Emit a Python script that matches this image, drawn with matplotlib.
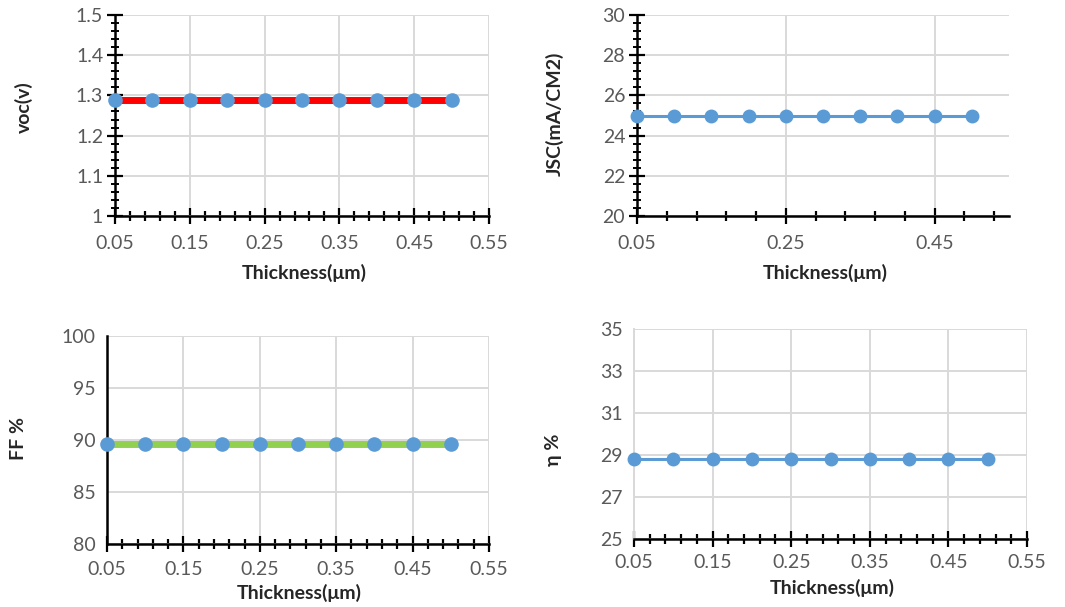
import matplotlib
matplotlib.use("Agg")
import matplotlib.pyplot as plt
from matplotlib.ticker import MultipleLocator

plt.rcParams['font.family'] = ['Lato', 'DejaVu Sans']

# =========================
# DATA
# =========================
thickness = [0.05, 0.10, 0.15, 0.20, 0.25, 0.30, 0.35, 0.40, 0.45, 0.50]
voc = [1.288, 1.288, 1.288, 1.288, 1.288, 1.288, 1.288, 1.288, 1.288, 1.288]
jsc = [24.98, 24.98, 24.98, 24.98, 24.98, 24.98, 24.98, 24.98, 24.98, 24.98]
ff = [89.6, 89.6, 89.6, 89.6, 89.6, 89.6, 89.6, 89.6, 89.6, 89.6]
eta = [28.8, 28.8, 28.8, 28.8, 28.8, 28.8, 28.8, 28.8, 28.8, 28.8]

GRID = '#D9D9D9'
TICK = '#595959'
MARK = '#5B9BD5'
LAB = '#262626'
W, H = 1065, 607


def box(l, r, t, b):
    return [l / W, (H - b) / H, (r - l) / W, (b - t) / H]


def style(ax, xmin, ymin=None, yaxis='ticks', xpad=8):
    ax.xaxis.set_minor_locator(MultipleLocator(xmin, offset=0.01))
    ax.grid(True, which='major', color=GRID, lw=1.4)
    ax.set_axisbelow(True)
    for s in ['top', 'right']:
        ax.spines[s].set_visible(False)
    ax.spines['bottom'].set_color('black')
    ax.spines['bottom'].set_linewidth(1.8)
    ax.tick_params(axis='x', which='major', direction='inout', length=11, width=1.6,
                   color='black', labelsize=14, labelcolor=TICK, pad=xpad)
    ax.tick_params(axis='x', which='minor', direction='inout', length=7, width=1.6, color='black')
    if yaxis == 'ticks':
        ax.yaxis.set_minor_locator(MultipleLocator(ymin))
        ax.spines['left'].set_color('black')
        ax.spines['left'].set_linewidth(1.8)
        ax.tick_params(axis='y', which='major', direction='inout', length=11, width=1.6,
                       color='black', labelsize=14, labelcolor=TICK, pad=3)
        ax.tick_params(axis='y', which='minor', direction='inout', length=6, width=1.4, color='black')
    else:
        ax.spines['left'].set_color('black' if yaxis == 'black' else GRID)
        ax.spines['left'].set_linewidth(1.8 if yaxis == 'black' else 1.4)
        ax.tick_params(axis='y', which='both', length=0, labelsize=14, labelcolor=TICK, pad=8)


def labels(ax, ylab, xpos, ypos):
    ax.set_xlabel('Thickness(μm)', fontsize=14, fontweight='bold', color=LAB, va='center')
    ax.set_ylabel(ylab, fontsize=14, fontweight='bold', color=LAB, va='center')
    ax.xaxis.set_label_coords(*xpos)
    ax.yaxis.set_label_coords(*ypos)


fig = plt.figure(figsize=(W / 100, H / 100), dpi=100)

# voc
ax1 = fig.add_axes(box(115, 489, 15, 216))
ax1.plot(thickness, voc, color='#FF0000', lw=5, marker='o', ms=9.5,
         mfc=MARK, mec=MARK, clip_on=False, zorder=3)
ax1.set_xlim(0.05, 0.55)
ax1.set_ylim(1, 1.5)
ax1.set_xticks([0.05, 0.15, 0.25, 0.35, 0.45, 0.55])
ax1.set_yticks([1, 1.1, 1.2, 1.3, 1.4, 1.5], ['1', '1.1', '1.2', '1.3', '1.4', '1.5'])
style(ax1, 0.02, 0.02)
labels(ax1, 'voc(v)', (0.505, -0.284), ((24 - 115) / 374, 0.542))

# Jsc
ax2 = fig.add_axes(box(637, 1009, 15, 216))
ax2.plot(thickness, jsc, color=MARK, lw=2.2, marker='o', ms=9,
         mfc=MARK, mec=MARK, clip_on=False, zorder=3)
ax2.set_xlim(0.05, 0.55)
ax2.set_ylim(20, 30)
ax2.set_xticks([0.05, 0.25, 0.45])
ax2.set_yticks([20, 22, 24, 26, 28, 30])
style(ax2, 0.04, 0.4)
labels(ax2, 'JSC(mA/CM2)', (0.505, -0.284), ((555 - 637) / 372, 0.507))

# FF
ax3 = fig.add_axes(box(107, 489, 336, 544))
ax3.plot(thickness, ff, color='#92D050', lw=5, marker='o', ms=9.5,
         mfc=MARK, mec=MARK, clip_on=False, zorder=3)
ax3.set_xlim(0.05, 0.55)
ax3.set_ylim(80, 100)
ax3.set_xticks([0.05, 0.15, 0.25, 0.35, 0.45, 0.55])
ax3.set_yticks([80, 85, 90, 95, 100])
style(ax3, 0.02, yaxis='black', xpad=7)
labels(ax3, 'FF %', (0.502, -0.236), ((19 - 107) / 382, 0.505))

# eta
ax4 = fig.add_axes(box(634, 1027, 329, 539))
ax4.plot(thickness, eta, color=MARK, lw=2.2, marker='o', ms=9,
         mfc=MARK, mec=MARK, clip_on=False, zorder=3)
ax4.set_xlim(0.05, 0.55)
ax4.set_ylim(25, 35)
ax4.set_xticks([0.05, 0.15, 0.25, 0.35, 0.45, 0.55])
ax4.set_yticks([25, 27, 29, 31, 33, 35])
style(ax4, 0.02, yaxis='gray', xpad=5)
labels(ax4, 'η %', (0.504, -0.234), ((553 - 634) / 393, 0.424))

fig.savefig('out.png', dpi=100)
